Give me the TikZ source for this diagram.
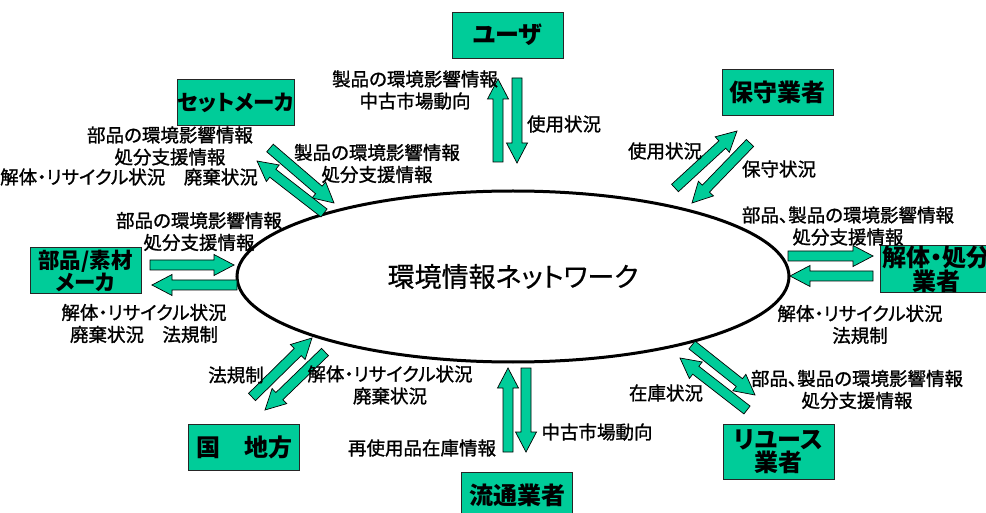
\documentclass[tikz,border=0pt]{standalone}
\usepackage{fontspec}
\setmainfont{Noto Sans CJK JP}[RawFeature={+palt}]
\newfontfamily\lblfam{Noto Sans CJK JP}[RawFeature={+palt}, FakeBold=1.2]
\newfontfamily\netfam{Noto Sans CJK JP}[RawFeature={+palt}, FakeBold=0.6]
\usetikzlibrary{calc,shapes.geometric}
\definecolor{boxgreen}{RGB}{0,204,153}
\newcommand\lblfont{\lblfam\fontsize{18.5}{22}\selectfont}
\newcommand\boxfont{\fontsize{24}{22}\selectfont\bfseries}
\tikzset{
  box/.style={draw=black!85, line width=0.9pt, fill=boxgreen, minimum width=111pt, minimum height=46pt, inner sep=0pt, font=\boxfont, align=center},
  lbl/.style={font=\lblfont, align=center, inner sep=0pt},
  barrow/.style={draw=black, line width=0.7pt, fill=boxgreen, line join=miter},
  net/.style={ellipse, draw=black, line width=3pt, inner sep=0pt, minimum width=552pt, minimum height=171pt, font=\netfam\fontsize{27}{30}\selectfont}
}
\newcommand\flowarrow[2]{%
  \coordinate (hb) at ($(#2)!20pt!(#1)$);
  \draw[barrow] ($(#1)!5pt!-90:(#2)$) -- ($(hb)!5pt!90:(#1)$) -- ($(hb)!10.5pt!90:(#1)$) -- (#2)
    -- ($(hb)!10.5pt!-90:(#1)$) -- ($(hb)!5pt!-90:(#1)$) -- ($(#1)!5pt!90:(#2)$) -- cycle;}
\begin{document}
\begin{tikzpicture}[x=1pt,y=-1pt]
\useasboundingbox (0,0) rectangle (986,513);
\fill[white] (0,0) rectangle (986,513);
% central network
\node[net] (net) at (513,276.5) {環境情報ネットワーク};
% boxes
\node[box] (user) at (507.5,35) {ユーザ};
\node[box, font=\fontsize{21.5}{22}\selectfont\bfseries] (setm) at (236,102.5) {セットメーカ};
\node[box] (hoshu) at (777.5,92) {保守業者};
\node[box, font=\fontsize{21.5}{22}\selectfont\bfseries] (buhin) at (85.5,270.5) {部品/素材\\メーカ};
\node[box] (kaitai) at (936,269) {解体・処分\\業者};
\node[box] (kuni) at (244,447) {国　地方};
\node[box] (ryutsu) at (517,495) {流通業者};
\node[box, minimum height=55pt] (reuse) at (778.5,451.5) {リユース\\業者};
% arrow end points
\coordinate (uA1) at (498,162); \coordinate (uB1) at (498,79);
\coordinate (uA2) at (517,78);  \coordinate (uB2) at (517,163);
\coordinate (sA1) at (270,148); \coordinate (sB1) at (334,203);
\coordinate (sA2) at (324,213); \coordinate (sB2) at (257,161);
\coordinate (hA1) at (675,188); \coordinate (hB1) at (737,131);
\coordinate (hA2) at (750,143); \coordinate (hB2) at (692,203);
\coordinate (bA1) at (150,265); \coordinate (bB1) at (234,265);
\coordinate (bA2) at (237,285); \coordinate (bB2) at (152,285);
\coordinate (kA1) at (788,256); \coordinate (kB1) at (873,256);
\coordinate (kA2) at (873,276); \coordinate (kB2) at (790,276);
\coordinate (gA1) at (252,397); \coordinate (gB1) at (312,338);
\coordinate (gA2) at (325,352); \coordinate (gB2) at (265,410);
\coordinate (rA1) at (508,452); \coordinate (rB1) at (508,368);
\coordinate (rA2) at (526,368); \coordinate (rB2) at (526,452);
\coordinate (eA1) at (692,345); \coordinate (eB1) at (755,395);
\coordinate (eA2) at (747,410); \coordinate (eB2) at (680,358);
\flowarrow{uA1}{uB1}\flowarrow{uA2}{uB2}
\flowarrow{sA1}{sB1}\flowarrow{sA2}{sB2}
\flowarrow{hA1}{hB1}\flowarrow{hA2}{hB2}
\flowarrow{bA1}{bB1}\flowarrow{bA2}{bB2}
\flowarrow{kA1}{kB1}\flowarrow{kA2}{kB2}
\flowarrow{gA1}{gB1}\flowarrow{gA2}{gB2}
\flowarrow{rA1}{rB1}\flowarrow{rA2}{rB2}
\flowarrow{eA1}{eB1}\flowarrow{eA2}{eB2}
% labels
\node[lbl] (lu1) at (415,90) {製品の環境影響情報\\中古市場動向};
\node[lbl] (lu2) at (564,124) {使用状況};
\node[lbl] (ls1) at (170,146) {部品の環境影響情報\\処分支援情報};
\node[lbl] (ls3) at (129,177) {解体・リサイクル状況　廃棄状況};
\node[lbl] (ls2) at (377,163.5) {製品の環境影響情報\\処分支援情報};
\node[lbl] (lh1) at (665,151) {使用状況};
\node[lbl] (lh2) at (779,169) {保守状況};
\node[lbl] (lb1) at (199,231.5) {部品の環境影響情報\\処分支援情報};
\node[lbl] (lb2) at (144,323.5) {解体・リサイクル状況\\廃棄状況　法規制};
\node[lbl] (lk1) at (848,226) {部品、製品の環境影響情報\\処分支援情報};
\node[lbl] (lk2) at (860,324.5) {解体・リサイクル状況\\法規制};
\node[lbl] (lg1) at (236,375) {法規制};
\node[lbl] (lg2) at (390,385) {解体・リサイクル状況\\廃棄状況};
\node[lbl] (lr1) at (422,448) {再使用品在庫情報};
\node[lbl] (lr2) at (597,432) {中古市場動向};
\node[lbl] (le1) at (666,393) {在庫状況};
\node[lbl] (le2) at (857,389.5) {部品、製品の環境影響情報\\処分支援情報};
\end{tikzpicture}
\end{document}
